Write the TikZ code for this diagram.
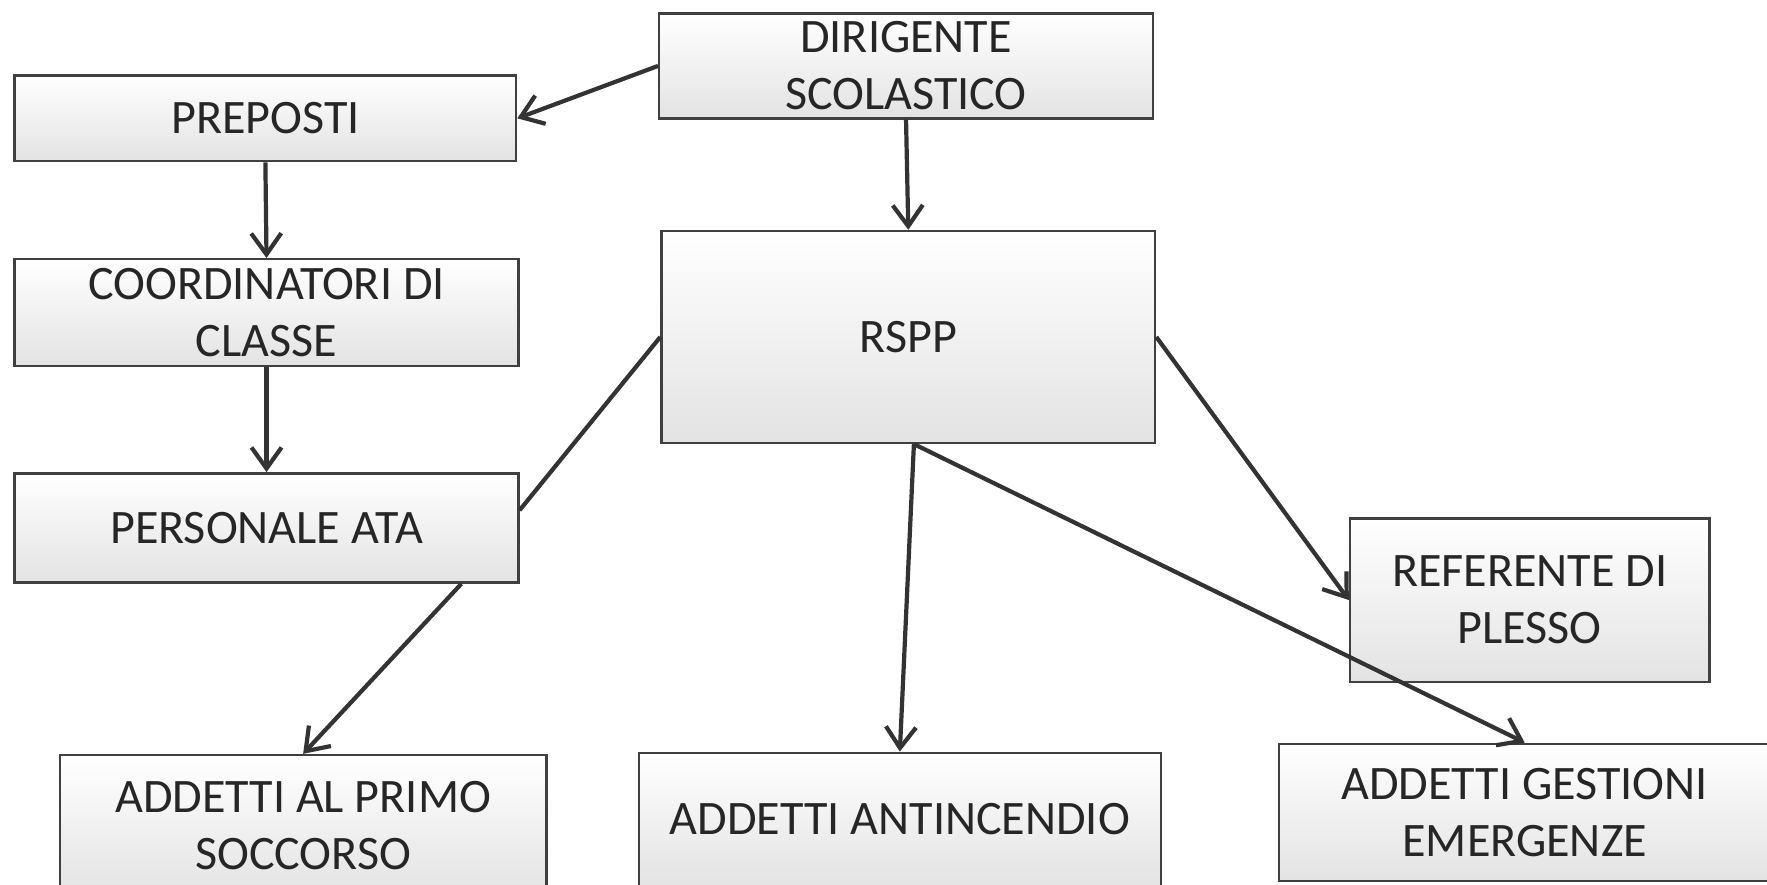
\documentclass[tikz,border=0pt]{standalone}
\usepackage{fontspec}
\setmainfont{Carlito}
\usetikzlibrary{arrows.meta}

\tikzset{
  box/.style={draw=black!75, line width=1.6pt, top color=white, bottom color=black!11,
    align=center, inner sep=0pt, text=black!85, font=\fontsize{32}{38}\selectfont},
  link/.style={draw=black!80, line width=2.8pt},
  arr/.style={link, -{Straight Barb[length=14pt,width=20pt]}}
}

\begin{document}
\begin{tikzpicture}[x=0.75pt,y=0.75pt,yscale=-1,xscale=1]
\clip (0,0) rectangle (1568,785); %picture is 1568 x 785

% Boxes
\node [box, minimum width=328.5pt, minimum height=69.75pt] (dir) at (804,58.5) {DIRIGENTE\\SCOLASTICO};
\node [box, minimum width=333.75pt, minimum height=57pt] (prep) at (235.5,105) {PREPOSTI};
\node [box, minimum width=335.25pt, minimum height=71.25pt] (coord) at (236.5,277.5) {COORDINATORI DI\\CLASSE};
\node [box, minimum width=335.25pt, minimum height=72.75pt] (ata) at (236.5,468.5) {PERSONALE ATA};
\node [box, minimum width=328.5pt, minimum height=141pt] (rspp) at (806,299) {RSPP};
\node [box, minimum width=239.25pt, minimum height=108.75pt] (ref) at (1357.5,532.5) {REFERENTE DI\\PLESSO};
\node [box, minimum width=324pt, minimum height=93.75pt] (primo) at (269,732.5) {ADDETTI AL PRIMO\\SOCCORSO};
\node [box, minimum width=347.25pt, minimum height=88.5pt] (antinc) at (798.5,727) {ADDETTI ANTINCENDIO};
\node [box, minimum width=327pt, minimum height=91.5pt] (gest) at (1353,721) {ADDETTI GESTIONI\\EMERGENZE};

% Straight Lines
\draw [arr] (dir.west) -- (prep.east);
\draw [arr] (dir.south) -- (rspp.north);
\draw [arr] (prep.south) -- (coord.north);
\draw [arr] (coord.south) -- (ata.north);
\draw [link] (rspp.west) -- (ata.4);
\draw [arr] (ata.-16) -- (primo.north);
\draw [arr] (rspp.-87) -- (antinc.north);
\draw [arr] (rspp.-87) -- (gest.north);
\draw [arr] (rspp.east) -- (ref.west);

\end{tikzpicture}
\end{document}
